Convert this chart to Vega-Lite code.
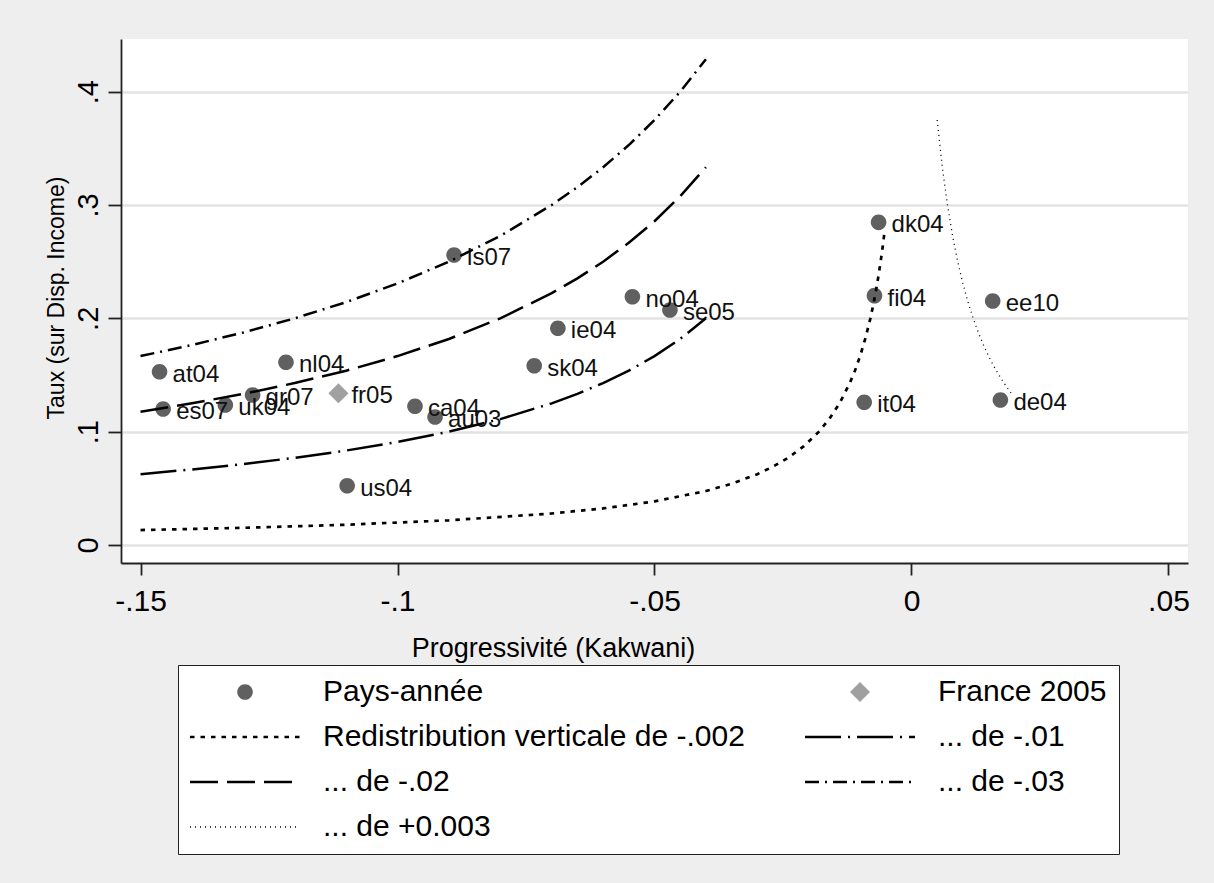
{
  "$schema": "https://vega.github.io/schema/vega-lite/v6.json",
  "width": 1067,
  "height": 524,
  "autosize": {"type": "none"},
  "padding": {"left": 121, "top": 39, "right": 26, "bottom": 320},
  "background": "#eeeeee",
  "datasets": {
    "pts": [
      {"label": "at04", "x": -0.1463, "y": 0.1529, "s": "Pays-année"},
      {"label": "es07", "x": -0.1456, "y": 0.1200, "s": "Pays-année"},
      {"label": "uk04", "x": -0.1335, "y": 0.1235, "s": "Pays-année"},
      {"label": "gr07", "x": -0.1282, "y": 0.1324, "s": "Pays-année"},
      {"label": "nl04", "x": -0.1217, "y": 0.1612, "s": "Pays-année"},
      {"label": "fr05", "x": -0.1115, "y": 0.1339, "s": "France 2005"},
      {"label": "ca04", "x": -0.0966, "y": 0.1224, "s": "Pays-année"},
      {"label": "au03", "x": -0.0927, "y": 0.1129, "s": "Pays-année"},
      {"label": "us04", "x": -0.1098, "y": 0.0523, "s": "Pays-année"},
      {"label": "is07", "x": -0.0890, "y": 0.2559, "s": "Pays-année"},
      {"label": "sk04", "x": -0.0734, "y": 0.1582, "s": "Pays-année"},
      {"label": "ie04", "x": -0.0688, "y": 0.1912, "s": "Pays-année"},
      {"label": "no04", "x": -0.0543, "y": 0.2191, "s": "Pays-année"},
      {"label": "se05", "x": -0.0470, "y": 0.2074, "s": "Pays-année"},
      {"label": "dk04", "x": -0.0064, "y": 0.2847, "s": "Pays-année"},
      {"label": "fi04", "x": -0.0072, "y": 0.2200, "s": "Pays-année"},
      {"label": "it04", "x": -0.0092, "y": 0.1259, "s": "Pays-année"},
      {"label": "ee10", "x": 0.0158, "y": 0.2153, "s": "Pays-année"},
      {"label": "de04", "x": 0.0173, "y": 0.1280, "s": "Pays-année"}
    ],
    "curves": [
      {"s": "Redistribution verticale de -.002", "x": -0.15, "y": 0.01316},
      {"s": "Redistribution verticale de -.002", "x": -0.13, "y": 0.01515},
      {"s": "Redistribution verticale de -.002", "x": -0.11, "y": 0.01786},
      {"s": "Redistribution verticale de -.002", "x": -0.09, "y": 0.02174},
      {"s": "Redistribution verticale de -.002", "x": -0.07, "y": 0.02778},
      {"s": "Redistribution verticale de -.002", "x": -0.06, "y": 0.03226},
      {"s": "Redistribution verticale de -.002", "x": -0.05, "y": 0.03846},
      {"s": "Redistribution verticale de -.002", "x": -0.04, "y": 0.04762},
      {"s": "Redistribution verticale de -.002", "x": -0.035, "y": 0.05405},
      {"s": "Redistribution verticale de -.002", "x": -0.03, "y": 0.0625},
      {"s": "Redistribution verticale de -.002", "x": -0.027, "y": 0.06897},
      {"s": "Redistribution verticale de -.002", "x": -0.024, "y": 0.07692},
      {"s": "Redistribution verticale de -.002", "x": -0.021, "y": 0.08696},
      {"s": "Redistribution verticale de -.002", "x": -0.018, "y": 0.1},
      {"s": "Redistribution verticale de -.002", "x": -0.016, "y": 0.1111},
      {"s": "Redistribution verticale de -.002", "x": -0.014, "y": 0.125},
      {"s": "Redistribution verticale de -.002", "x": -0.012, "y": 0.1429},
      {"s": "Redistribution verticale de -.002", "x": -0.011, "y": 0.1538},
      {"s": "Redistribution verticale de -.002", "x": -0.01, "y": 0.1667},
      {"s": "Redistribution verticale de -.002", "x": -0.009, "y": 0.1818},
      {"s": "Redistribution verticale de -.002", "x": -0.008, "y": 0.2},
      {"s": "Redistribution verticale de -.002", "x": -0.0075, "y": 0.2105},
      {"s": "Redistribution verticale de -.002", "x": -0.007, "y": 0.2222},
      {"s": "Redistribution verticale de -.002", "x": -0.0065, "y": 0.2353},
      {"s": "Redistribution verticale de -.002", "x": -0.006, "y": 0.25},
      {"s": "Redistribution verticale de -.002", "x": -0.0055, "y": 0.2667},
      {"s": "Redistribution verticale de -.002", "x": -0.0052, "y": 0.2778},
      {"s": "... de -.01", "x": -0.15, "y": 0.0625},
      {"s": "... de -.01", "x": -0.14, "y": 0.06667},
      {"s": "... de -.01", "x": -0.13, "y": 0.07143},
      {"s": "... de -.01", "x": -0.12, "y": 0.07692},
      {"s": "... de -.01", "x": -0.11, "y": 0.08333},
      {"s": "... de -.01", "x": -0.10, "y": 0.09091},
      {"s": "... de -.01", "x": -0.09, "y": 0.1},
      {"s": "... de -.01", "x": -0.08, "y": 0.1111},
      {"s": "... de -.01", "x": -0.07, "y": 0.125},
      {"s": "... de -.01", "x": -0.065, "y": 0.1333},
      {"s": "... de -.01", "x": -0.06, "y": 0.1429},
      {"s": "... de -.01", "x": -0.055, "y": 0.1538},
      {"s": "... de -.01", "x": -0.05, "y": 0.1667},
      {"s": "... de -.01", "x": -0.045, "y": 0.1818},
      {"s": "... de -.01", "x": -0.04, "y": 0.2},
      {"s": "... de -.02", "x": -0.15, "y": 0.1176},
      {"s": "... de -.02", "x": -0.14, "y": 0.125},
      {"s": "... de -.02", "x": -0.13, "y": 0.1333},
      {"s": "... de -.02", "x": -0.12, "y": 0.1429},
      {"s": "... de -.02", "x": -0.11, "y": 0.1538},
      {"s": "... de -.02", "x": -0.10, "y": 0.1667},
      {"s": "... de -.02", "x": -0.09, "y": 0.1818},
      {"s": "... de -.02", "x": -0.08, "y": 0.2},
      {"s": "... de -.02", "x": -0.07, "y": 0.2222},
      {"s": "... de -.02", "x": -0.065, "y": 0.2353},
      {"s": "... de -.02", "x": -0.06, "y": 0.25},
      {"s": "... de -.02", "x": -0.055, "y": 0.2667},
      {"s": "... de -.02", "x": -0.05, "y": 0.2857},
      {"s": "... de -.02", "x": -0.045, "y": 0.3077},
      {"s": "... de -.02", "x": -0.04, "y": 0.3333},
      {"s": "... de -.03", "x": -0.15, "y": 0.1667},
      {"s": "... de -.03", "x": -0.14, "y": 0.1765},
      {"s": "... de -.03", "x": -0.13, "y": 0.1875},
      {"s": "... de -.03", "x": -0.12, "y": 0.2},
      {"s": "... de -.03", "x": -0.11, "y": 0.2143},
      {"s": "... de -.03", "x": -0.10, "y": 0.2308},
      {"s": "... de -.03", "x": -0.09, "y": 0.25},
      {"s": "... de -.03", "x": -0.08, "y": 0.2727},
      {"s": "... de -.03", "x": -0.07, "y": 0.3},
      {"s": "... de -.03", "x": -0.065, "y": 0.3158},
      {"s": "... de -.03", "x": -0.06, "y": 0.3333},
      {"s": "... de -.03", "x": -0.055, "y": 0.3529},
      {"s": "... de -.03", "x": -0.05, "y": 0.375},
      {"s": "... de -.03", "x": -0.045, "y": 0.4},
      {"s": "... de -.03", "x": -0.04, "y": 0.4286},
      {"s": "... de +0.003", "x": 0.005, "y": 0.375},
      {"s": "... de +0.003", "x": 0.006, "y": 0.3333},
      {"s": "... de +0.003", "x": 0.007, "y": 0.3},
      {"s": "... de +0.003", "x": 0.008, "y": 0.2727},
      {"s": "... de +0.003", "x": 0.009, "y": 0.25},
      {"s": "... de +0.003", "x": 0.010, "y": 0.2308},
      {"s": "... de +0.003", "x": 0.011, "y": 0.2143},
      {"s": "... de +0.003", "x": 0.012, "y": 0.2},
      {"s": "... de +0.003", "x": 0.013, "y": 0.1875},
      {"s": "... de +0.003", "x": 0.014, "y": 0.1765},
      {"s": "... de +0.003", "x": 0.015, "y": 0.1667},
      {"s": "... de +0.003", "x": 0.016, "y": 0.1579},
      {"s": "... de +0.003", "x": 0.017, "y": 0.15},
      {"s": "... de +0.003", "x": 0.018, "y": 0.1429},
      {"s": "... de +0.003", "x": 0.019, "y": 0.1364},
      {"s": "... de +0.003", "x": 0.0195, "y": 0.1333}
    ]
  },
  "encoding": {
    "x": {
      "field": "x", "type": "quantitative",
      "scale": {"domain": [-0.1538, 0.0538], "nice": false, "zero": false},
      "axis": {
        "title": "Progressivité (Kakwani)",
        "values": [-0.15, -0.1, -0.05, 0, 0.05],
        "labelExpr": "(datum.value < 0 ? '-' : '') + (datum.value == 0 ? '0' : replace(format(abs(datum.value), '.2~f'), '0.', '.'))",
        "grid": false,
        "tickSize": 12,
        "labelFontSize": 30,
        "labelBaseline": "alphabetic",
        "labelPadding": 35,
        "labelFlush": false,
        "labelOverlap": false,
        "titleFontSize": 27,
        "titleX": 432,
        "titleY": 93,
        "titleBaseline": "alphabetic",
        "titleAlign": "center"
      }
    },
    "y": {
      "field": "y", "type": "quantitative",
      "scale": {"domain": [-0.0159, 0.4465], "nice": false, "zero": false},
      "axis": {
        "title": "Taux (sur Disp. Income)",
        "values": [0, 0.1, 0.2, 0.3, 0.4],
        "labelExpr": "datum.value == 0 ? '0' : replace(format(datum.value, '.1f'), '0.', '.')",
        "grid": true,
        "gridColor": "#e3e3e3",
        "gridWidth": 2.5,
        "tickSize": 13,
        "labelAngle": 270,
        "labelAlign": "center",
        "labelBaseline": "alphabetic",
        "labelPadding": 11,
        "labelFontSize": 29,
        "labelFlush": false,
        "labelOverlap": false,
        "titleFontSize": 23,
        "titleAngle": 270,
        "titleX": -57.7,
        "titleY": 258.5,
        "titleBaseline": "alphabetic",
        "titleAlign": "center"
      }
    }
  },
  "layer": [
    {
      "data": {"name": "pts"},
      "mark": {"type": "point", "filled": true, "size": 400, "opacity": 1},
      "encoding": {
        "color": {
          "field": "s", "type": "nominal",
          "scale": {
            "domain": ["Pays-année", "Redistribution verticale de -.002", "... de -.02", "... de +0.003", "France 2005", "... de -.01", "... de -.03"],
            "range": ["#606060", "black", "black", "black", "#a0a0a0", "black", "black"]
          },
          "legend": {"title": null}
        },
        "shape": {
          "field": "s", "type": "nominal",
          "scale": {
            "domain": ["Pays-année", "Redistribution verticale de -.002", "... de -.02", "... de +0.003", "France 2005", "... de -.01", "... de -.03"],
            "range": [
              "M-5.5,0M5.5,0M-0.78,0A0.78,0.78,0,1,0,0.78,0A0.78,0.78,0,1,0,-0.78,0Z",
              "M-5.5,0L5.5,0", "M-5.5,0L5.5,0", "M-5.5,0L5.5,0",
              "M-5.5,0M5.5,0M0,-1L1,0L0,1L-1,0Z",
              "M-5.5,0L5.5,0", "M-5.5,0L5.5,0"
            ]
          },
          "legend": {"title": null}
        }
      }
    },
    {
      "data": {"name": "pts"},
      "mark": {"type": "text", "align": "left", "baseline": "middle", "dx": 13, "dy": 3, "fontSize": 24, "color": "#111111", "font": "Liberation Sans"},
      "encoding": {"text": {"field": "label", "type": "nominal"}}
    },
    {
      "data": {"name": "curves"},
      "mark": {"type": "line"},
      "encoding": {
        "color": {
          "field": "s", "type": "nominal",
          "scale": {
            "domain": ["Pays-année", "Redistribution verticale de -.002", "... de -.02", "... de +0.003", "France 2005", "... de -.01", "... de -.03"],
            "range": ["#606060", "black", "black", "black", "#a0a0a0", "black", "black"]
          },
          "legend": {"title": null}
        },
        "strokeDash": {
          "field": "s", "type": "nominal",
          "scale": {
            "domain": ["Pays-année", "Redistribution verticale de -.002", "... de -.02", "... de +0.003", "France 2005", "... de -.01", "... de -.03"],
            "range": [[1, 0], [4.5, 6], [28, 9], [1, 4], [1, 0], [36, 7, 2, 7], [14, 6, 2, 6]]
          },
          "legend": {"title": null}
        },
        "strokeWidth": {
          "field": "s", "type": "nominal",
          "scale": {
            "type": "ordinal",
            "domain": ["Pays-année", "Redistribution verticale de -.002", "... de -.02", "... de +0.003", "France 2005", "... de -.01", "... de -.03"],
            "range": [0, 2.7, 2.5, 1.3, 0, 2.5, 2.5]
          },
          "legend": {"title": null}
        }
      }
    }
  ],
  "config": {
    "view": {"fill": "white", "stroke": null},
    "font": "Liberation Sans",
    "axis": {
      "labelFont": "Liberation Sans",
      "titleFont": "Liberation Sans",
      "titleFontWeight": "normal",
      "labelColor": "black",
      "titleColor": "black",
      "domainColor": "#222222",
      "tickColor": "#222222",
      "domainWidth": 1.8,
      "tickWidth": 1.8
    },
    "legend": {
      "orient": "none",
      "legendX": 57,
      "legendY": 626,
      "columns": 2,
      "columnPadding": 55,
      "rowPadding": 15,
      "padding": 12,
      "fillColor": "white",
      "strokeColor": "#222222",
      "symbolSize": 400,
      "symbolOffset": 40,
      "labelOffset": 63,
      "labelLimit": 2000,
      "labelFontSize": 30,
      "labelFont": "Liberation Sans",
      "labelColor": "black",
      "symbolOpacity": 1
    }
  }
}
